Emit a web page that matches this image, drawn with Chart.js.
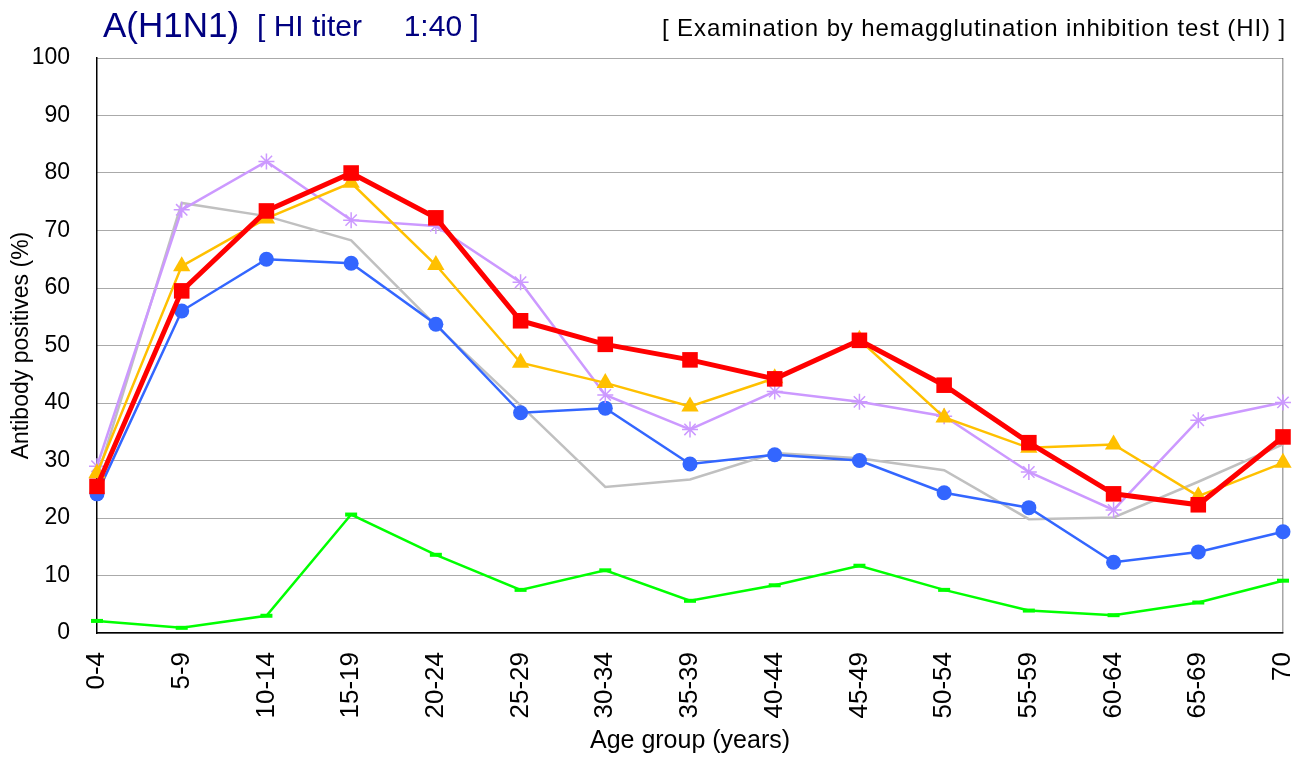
<!DOCTYPE html>
<html lang="en">
<head>
<meta charset="UTF-8">
<title>A(H1N1) HI titer 1:40</title>
<script src="https://cdn.jsdelivr.net/npm/chart.js"></script>
<style>
  html, body { margin: 0; padding: 0; background: #fff; }
  #wrap { position: relative; width: 1303px; height: 760px; font-family: "Liberation Sans", Arial, sans-serif; }
  #chart { position: absolute; left: 0; top: 0; }
  .ttl { position: absolute; white-space: pre; line-height: 1; color: #000080; }
</style>
</head>
<body>
<div id="wrap">
  <canvas id="chart" width="1303" height="760"></canvas>
  <div class="ttl" style="left:103px; top:7px; font-size:35px;">A(H1N1)</div>
  <div class="ttl" style="left:257px; top:11px; font-size:30px;">[ HI titer     1:40 ]</div>
  <div class="ttl" style="right:17px; top:16px; font-size:24px; letter-spacing:0.9px; color:#000;">[ Examination by hemagglutination inhibition test (HI) ]</div>
</div>
<script>
// age groups on the x axis
var ageGroups = ['0-4','5-9','10-14','15-19','20-24','25-29','30-34','35-39','40-44','45-49','50-54','55-59','60-64','65-69','70'];

// antibody positive rate (%) per series
var redSeries    = [25.5, 59.5, 73.4, 80.0, 72.2, 54.3, 50.2, 47.5, 44.2, 50.9, 43.1, 33.1, 24.2, 22.3, 34.1];
var yellowSeries = [27.8, 63.8, 72.1, 78.3, 64.0, 47.0, 43.5, 39.4, 44.3, 51.0, 37.5, 32.2, 32.8, 23.8, 29.6];
var purpleSeries = [29.0, 73.6, 82.0, 71.8, 70.8, 61.0, 41.4, 35.4, 42.0, 40.2, 37.7, 28.0, 21.4, 37.0, 40.1];
var blueSeries   = [24.2, 56.0, 65.0, 64.3, 53.7, 38.3, 39.1, 29.4, 31.0, 30.0, 24.4, 21.8, 12.3, 14.1, 17.6];
var greenSeries  = [2.1, 0.9, 3.0, 20.6, 13.6, 7.5, 10.9, 5.6, 8.3, 11.7, 7.5, 3.9, 3.1, 5.3, 9.1];
var graySeries   = [27.0, 74.8, 72.5, 68.3, 53.5, 39.6, 25.4, 26.7, 31.3, 30.4, 28.3, 19.8, 20.1, 26.3, 32.8];

var yTicks = { min: 0, max: 100, step: 10 };

var fontFamily = '"Liberation Sans", Arial, sans-serif';

var ctx = document.getElementById('chart').getContext('2d');
var chart = new Chart(ctx, {
    type: 'line',
    data: {
        labels: ageGroups,
        // first dataset is drawn on top
        datasets: [
            {
                label: 'red',
                data: redSeries,
                borderColor: '#FF0000',
                backgroundColor: '#FF0000',
                borderWidth: 5,
                pointStyle: 'rect',
                pointRadius: 11,
                pointBorderWidth: 0
            },
            {
                label: 'yellow',
                data: yellowSeries,
                borderColor: '#FFC000',
                backgroundColor: '#FFC000',
                borderWidth: 2.5,
                pointStyle: 'triangle',
                pointRadius: 10,
                pointBorderWidth: 0
            },
            {
                label: 'purple',
                data: purpleSeries,
                borderColor: '#CC99FF',
                backgroundColor: '#CC99FF',
                borderWidth: 2.5,
                pointStyle: 'star',
                pointRadius: 8,
                pointBorderWidth: 1.5
            },
            {
                label: 'blue',
                data: blueSeries,
                borderColor: '#3366FF',
                backgroundColor: '#3366FF',
                borderWidth: 2.5,
                pointStyle: 'circle',
                pointRadius: 7.5,
                pointBorderWidth: 0
            },
            {
                label: 'green',
                data: greenSeries,
                borderColor: '#00FF00',
                backgroundColor: '#00FF00',
                borderWidth: 2.5,
                pointStyle: 'line',
                pointRadius: 6,
                pointBorderWidth: 4
            },
            {
                label: 'gray',
                data: graySeries,
                borderColor: '#C0C0C0',
                borderWidth: 2.5,
                pointRadius: 0
            }
        ]
    },
    options: {
        responsive: false,
        animation: false,
        clip: false,
        elements: { line: { tension: 0 } },
        layout: { padding: { left: 0, right: 20, top: 58, bottom: 0 } },
        plugins: {
            legend: { display: false },
            tooltip: { enabled: false }
        },
        scales: {
            x: {
                grid: {
                    drawTicks: false,
                    lineWidth: 1.5,
                    // only the right frame line of the plot area
                    color: function(c) { return c.index === ageGroups.length - 1 ? '#A6A6A6' : 'rgba(0,0,0,0)'; }
                },
                border: { display: true, color: '#000', width: 1.5 },
                ticks: {
                    autoSkip: false,
                    minRotation: 90,
                    maxRotation: 90,
                    padding: 19,
                    color: '#000',
                    font: { family: fontFamily, size: 26 }
                },
                title: {
                    display: true,
                    text: 'Age group (years)',
                    color: '#000',
                    padding: { top: 0, bottom: 4 },
                    font: { family: fontFamily, size: 25 }
                },
                afterFit: function(scale) {
                    scale.height = 127;
                    // keep the plot area edge where the reference has it
                    scale.paddingLeft = 0;
                    scale.paddingRight = 0;
                }
            },
            y: {
                min: yTicks.min,
                max: yTicks.max,
                grid: {
                    drawTicks: false,
                    color: '#555555',
                    lineWidth: 1
                },
                border: { display: true, color: '#000', width: 1.5, dash: [1, 1] },
                ticks: {
                    stepSize: yTicks.step,
                    padding: 27,
                    color: '#000',
                    font: { family: fontFamily, size: 23 }
                },
                title: {
                    display: true,
                    text: 'Antibody positives (%)',
                    color: '#000',
                    padding: { top: 8, bottom: 0 },
                    font: { family: fontFamily, size: 23 }
                },
                afterFit: function(scale) { scale.width = 97; }
            }
        }
    }
});
</script>
</body>
</html>
